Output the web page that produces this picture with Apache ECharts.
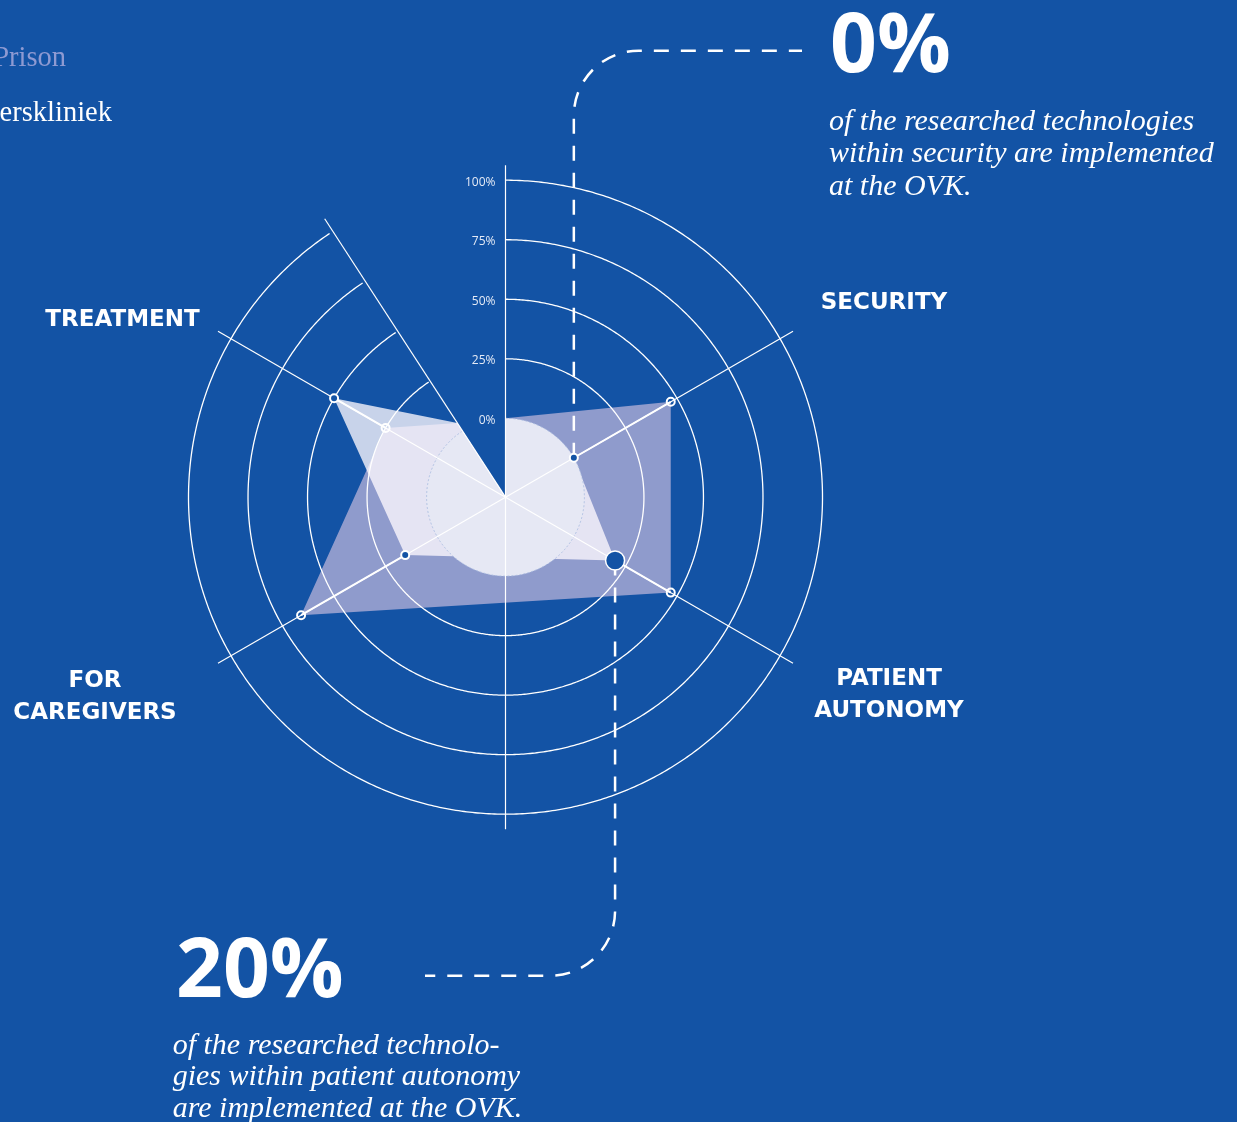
<!DOCTYPE html>
<html>
<head>
<meta charset="utf-8">
<script src="https://cdn.jsdelivr.net/npm/echarts@6/dist/echarts.min.js"></script>
<style>
  html, body { margin: 0; padding: 0; background: #1353a5; }
  #chart { width: 1237px; height: 1122px; }
</style>
</head>
<body>
<div id="chart"></div>
<script>
// Share of the researched technologies that is implemented, per domain
const CATEGORIES = ['SECURITY', 'PATIENT AUTONOMY', 'FOR CAREGIVERS', 'TREATMENT'];
const SERIES_NAMES = ['Prison', 'Oostvaarderskliniek'];
const PRISON = [47, 47, 66, 25];
const OVK = [0, 20, 15.5, 50];
// value at which each shape meets the open sector beside the value axis (Prison, OVK)
const GAP_EDGE = [4, 4];
const TICKS = [0, 25, 50, 75, 100];
const TICK_LABELS = ['0%', '25%', '50%', '75%', '100%'];

// ---- layout ----
const CENTER = [505.5, 497.2];
const RADIUS = 332;
const R_MIN = -33.14;
const R_MAX = 106.3;
const CATEGORY_ANGLES = [30, 330, 210, 150];
const AXIS_ANGLE = 90;
const GAP_ANGLE = 123;
const SPOKE_ANGLES = [90, 270, 123, 30, 150, 210, 330];
const RING_OVERSHOOT = 0.7;
const HIGHLIGHT = 1;          // the category called out at the bottom

const BG = '#1353a5';
const PRISON_FILL = '#8f9bcc';
const OVK_FILL = 'rgba(255,250,255,0.77)';
const CORE_FILL = '#e6e8f4';

const norm = a => ((a % 360) + 360) % 360;

function arcPoints(api, v, from, to, step) {
  const pts = [];
  for (let a = from; a > to; a -= step) pts.push(api.coord([v, norm(a)]));
  pts.push(api.coord([v, norm(to)]));
  return pts;
}

function shapeSeries(name, values, gapValue, fill, z) {
  const verts = [[R_MIN, AXIS_ANGLE], [0, AXIS_ANGLE]];
  values.forEach((v, i) => verts.push([v, CATEGORY_ANGLES[i]]));
  verts.push([gapValue, GAP_ANGLE]);
  return {
    type: 'custom', name, coordinateSystem: 'polar', z, silent: true,
    data: verts,
    renderItem(params, api) {
      if (params.dataIndex !== 0) return null;
      const pts = verts.map(d => api.coord(d));
      return { type: 'polygon', shape: { points: pts }, style: { fill } };
    }
  };
}

const chart = echarts.init(document.getElementById('chart'), null, { renderer: 'canvas' });

const option = {
  backgroundColor: BG,
  animation: false,
  polar: { center: CENTER, radius: RADIUS },
  angleAxis: {
    type: 'value', min: 0, max: 360, startAngle: 0, clockwise: false,
    axisLine: { show: false }, axisTick: { show: false },
    axisLabel: { show: false }, splitLine: { show: false }
  },
  radiusAxis: {
    type: 'value', min: R_MIN, max: R_MAX,
    axisLine: { show: false }, axisTick: { show: false },
    axisLabel: { show: false }, splitLine: { show: false }
  },
  series: [
    shapeSeries(SERIES_NAMES[0], PRISON, GAP_EDGE[0], PRISON_FILL, 1),
    shapeSeries(SERIES_NAMES[1], OVK, GAP_EDGE[1], OVK_FILL, 2),
    {
      // inner core below the 0% ring
      type: 'custom', coordinateSystem: 'polar', z: 3, silent: true,
      data: [[0, AXIS_ANGLE]],
      renderItem(params, api) {
        const pts = [api.coord([R_MIN, AXIS_ANGLE])]
          .concat(arcPoints(api, 0, AXIS_ANGLE, GAP_ANGLE - 360, 1));
        return { type: 'polygon', shape: { points: pts }, style: { fill: CORE_FILL } };
      }
    },
    {
      // rings with their tick labels
      type: 'custom', coordinateSystem: 'polar', z: 4, silent: true,
      data: TICKS.map(t => [t, AXIS_ANGLE]),
      renderItem(params, api) {
        const v = api.value(0);
        const zero = v === 0;
        const pts = arcPoints(api, v, AXIS_ANGLE, GAP_ANGLE - 360 + RING_OVERSHOOT, 0.5);
        const p = api.coord([v, AXIS_ANGLE]);
        return {
          type: 'group',
          children: [
            {
              type: 'polyline', shape: { points: pts },
              style: zero
                ? { stroke: 'rgba(170,188,224,0.9)', lineWidth: 1, lineDash: [2, 2], fill: null }
                : { stroke: '#ffffff', lineWidth: 1.3, fill: null }
            },
            {
              type: 'text', x: p[0] - 10, y: p[1] + 2,
              style: {
                text: TICK_LABELS[params.dataIndex], fill: '#e4eaf6',
                font: '12px "Open Sans"', align: 'right', textAlign: 'right',
                verticalAlign: 'middle', textVerticalAlign: 'middle'
              }
            }
          ]
        };
      }
    },
    {
      // spokes
      type: 'custom', coordinateSystem: 'polar', z: 4, silent: true,
      data: SPOKE_ANGLES.map(a => [R_MIN, a]),
      renderItem(params, api) {
        const a = api.value(1);
        const p0 = api.coord([R_MIN, a]);
        const p1 = api.coord([R_MAX, a]);
        return {
          type: 'line', shape: { x1: p0[0], y1: p0[1], x2: p1[0], y2: p1[1] },
          style: { stroke: '#ffffff', lineWidth: 1.2 }
        };
      }
    },
    {
      // gap between the two values on each spoke
      type: 'custom', coordinateSystem: 'polar', z: 5, silent: true,
      data: CATEGORIES.map((c, i) => [PRISON[i], CATEGORY_ANGLES[i], OVK[i]]),
      renderItem(params, api) {
        const a = api.value(1);
        const p0 = api.coord([api.value(0), a]);
        const p1 = api.coord([api.value(2), a]);
        return {
          type: 'line', shape: { x1: p0[0], y1: p0[1], x2: p1[0], y2: p1[1] },
          style: { stroke: '#ffffff', lineWidth: 2 }
        };
      }
    },
    {
      // dashed call-out leaders
      type: 'custom', coordinateSystem: 'polar', z: 6, silent: true,
      data: [[OVK[0], CATEGORY_ANGLES[0]], [OVK[HIGHLIGHT], CATEGORY_ANGLES[HIGHLIGHT]]],
      renderItem(params, api) {
        const p = api.coord([api.value(0), api.value(1)]);
        const R = 65, k = 0.5523;
        let d;
        if (params.dataIndex === 0) {
          const Y = 50.7, endX = 802;
          d = `M ${p[0]} ${p[1]} L ${p[0]} ${Y + R} ` +
              `C ${p[0]} ${Y + R - k * R} ${p[0] + R - k * R} ${Y} ${p[0] + R} ${Y} L ${endX} ${Y}`;
        } else {
          const Y = 975.7, endX = 425;
          d = `M ${p[0]} ${p[1]} L ${p[0]} ${Y - R} ` +
              `C ${p[0]} ${Y - R + k * R} ${p[0] - R + k * R} ${Y} ${p[0] - R} ${Y} L ${endX} ${Y}`;
        }
        return {
          type: 'path', shape: { pathData: d },
          style: { stroke: '#ffffff', lineWidth: 2.5, lineDash: [15, 12], fill: null }
        };
      }
    },
    {
      name: SERIES_NAMES[0], type: 'scatter', coordinateSystem: 'polar', z: 7, silent: true,
      symbol: 'circle', symbolSize: 8,
      itemStyle: { color: 'rgba(0,0,0,0)', borderColor: '#ffffff', borderWidth: 2, opacity: 1 },
      data: PRISON.map((v, i) => [v, CATEGORY_ANGLES[i]])
    },
    {
      name: SERIES_NAMES[1], type: 'scatter', coordinateSystem: 'polar', z: 8, silent: true,
      symbol: 'circle', symbolSize: 8,
      itemStyle: { color: BG, borderColor: '#ffffff', borderWidth: 2, opacity: 1 },
      data: OVK.map((v, i) => i === HIGHLIGHT
        ? { value: [v, CATEGORY_ANGLES[i]], symbolSize: 19, itemStyle: { borderWidth: 1.5 } }
        : [v, CATEGORY_ANGLES[i]])
    }
  ],
  graphic: { elements: [] }
};

// category labels
const LABEL_POS = [[884, 303], [889, 695], [95, 697], [122.5, 320]];
CATEGORIES.forEach((c, i) => {
  option.graphic.elements.push({
    type: 'text', x: LABEL_POS[i][0], y: LABEL_POS[i][1], z: 10, silent: true,
    style: {
      text: c.replace(' ', '\n'), fill: '#ffffff', font: 'bold 23px "DejaVu Sans"',
      lineHeight: 32, align: 'center', textAlign: 'center',
      verticalAlign: 'middle', textVerticalAlign: 'middle'
    }
  });
});

// series names, partly running off the left edge
[[SERIES_NAMES[0], 66, 59, '#8e9ad2'], [SERIES_NAMES[1], 112, 114, '#ffffff']].forEach(([t, x, y, col]) => {
  option.graphic.elements.push({
    type: 'text', x, y, z: 10, silent: true,
    style: {
      text: t, fill: col, font: '28.5px "Liberation Serif"',
      align: 'right', textAlign: 'right', verticalAlign: 'middle', textVerticalAlign: 'middle'
    }
  });
});

// call-out figures and captions
const CALLOUTS = [
  { value: OVK[0], x: 830, y: 48.8, tx: 829, ty: 106, lh: 32.3,
    text: 'of the researched technologies\nwithin security are implemented\nat the OVK.' },
  { value: OVK[HIGHLIGHT], x: 176, y: 973.8, tx: 172.7, ty: 1030, lh: 31.7,
    text: 'of the researched technolo-\ngies within patient autonomy\nare implemented at the OVK.' }
];
CALLOUTS.forEach(c => {
  option.graphic.elements.push({
    type: 'text', x: c.x, y: c.y, z: 10, silent: true,
    style: {
      text: c.value + '%', fill: '#ffffff', font: 'bold 82px "Open Sans"',
      align: 'left', textAlign: 'left', verticalAlign: 'middle', textVerticalAlign: 'middle'
    }
  });
  option.graphic.elements.push({
    type: 'text', x: c.tx, y: c.ty, z: 10, silent: true,
    style: {
      text: c.text, fill: '#ffffff', font: 'italic 30px "Liberation Serif"',
      lineHeight: c.lh, align: 'left', textAlign: 'left',
      verticalAlign: 'top', textVerticalAlign: 'top'
    }
  });
});

chart.setOption(option);
</script>
</body>
</html>
